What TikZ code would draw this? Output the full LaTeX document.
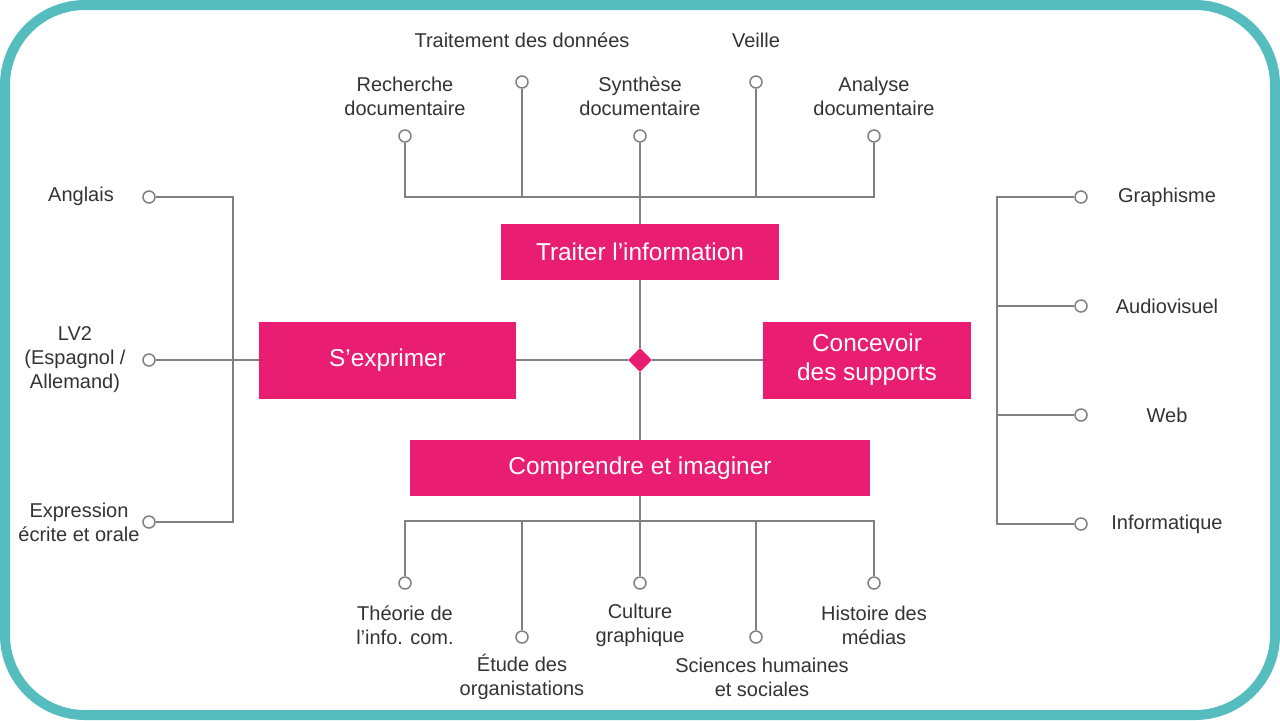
\documentclass[tikz,border=0pt]{standalone}
\usepackage{fontspec}
\setmainfont{Liberation Sans}
\usepackage{tikz}
\usetikzlibrary{shapes.geometric}
\definecolor{frame}{HTML}{55BDBD}
\definecolor{accent}{HTML}{E91E73}
\definecolor{wire}{HTML}{808080}
\definecolor{ink}{HTML}{333333}
\tikzset{
  link/.style={draw=wire, line width=1pt},
  pin/.style={circle, draw=wire, fill=white, line width=0.75pt, minimum size=6pt, inner sep=0pt},
  box/.style={fill=accent, text=white, inner sep=0pt, align=center, font=\fontsize{12.2}{14.5}\selectfont},
  hubd/.style={diamond, aspect=1, fill=accent, minimum size=12pt, inner sep=0pt},
  lab/.style={text=ink, align=center, font=\fontsize{10}{12}\selectfont, inner sep=0pt},
}

\begin{document}
\begin{tikzpicture}[x=0.5pt,y=-0.5pt]
  \useasboundingbox (0,0) rectangle (1280,720);
  \draw[frame, line width=5pt, rounded corners=40pt] (5,5) rectangle (1275,715);
  \def\tbus{197} \def\bbus{521} \def\lbus{233} \def\rbus{997}
  % central boxes
  \node[box, minimum width=139pt, minimum height=28pt] (traiter) at (640,252) {Traiter l’information};
  \node[box, minimum width=128.5pt, minimum height=38.5pt] (exprimer) at (387.5,360) {S’exprimer};
  \node[box, minimum width=104pt, minimum height=38.5pt] (concevoir) at (867,360) {Concevoir\\des supports};
  \node[box, minimum width=230pt, minimum height=28pt] (comprendre) at (640,468) {Comprendre et imaginer};
  \node[hubd] (hub) at (640,360) {};
  \coordinate (tb) at (640,\tbus);
  \coordinate (bb) at (640,\bbus);
  \draw[link] (tb) -- (traiter.north);
  \draw[link] (traiter.south) -- (hub.north);
  \draw[link] (hub.south) -- (comprendre.north);
  \draw[link] (comprendre.south) -- (bb);
  \draw[link] (exprimer.east) -- (hub.west);
  \draw[link] (hub.east) -- (concevoir.west);
  % top branch
  \node[pin] (rech) at (405,136) {};
  \node[pin] (trait) at (522,82) {};
  \node[pin] (synth) at (640,136) {};
  \node[pin] (veille) at (756,82) {};
  \node[pin] (anal) at (874,136) {};
  \draw[link] (rech) |- (tb) -| (anal);
  \draw[link] (trait) -- (trait |- tb);
  \draw[link] (synth) -- (tb);
  \draw[link] (veille) -- (veille |- tb);
  \node[lab] (l-rech) at (405,96) {Recherche\\documentaire};
  \node[lab] (l-trait) at (522,40) {Traitement des données};
  \node[lab] (l-synth) at (640,96) {Synthèse\\documentaire};
  \node[lab] (l-veille) at (756,40) {Veille};
  \node[lab] (l-anal) at (874,96) {Analyse\\documentaire};
  % bottom branch
  \node[pin] (theo) at (405,583) {};
  \node[pin] (etude) at (522,637) {};
  \node[pin] (cult) at (640,583) {};
  \node[pin] (scien) at (756,637) {};
  \node[pin] (hist) at (874,583) {};
  \draw[link] (theo) |- (bb) -| (hist);
  \draw[link] (etude) -- (etude |- bb);
  \draw[link] (cult) -- (bb);
  \draw[link] (scien) -- (scien |- bb);
  \node[lab] (l-theo) at (405,625) {Théorie de\\l’info. com.};
  \node[lab] (l-etude) at (522,677) {Étude des\\organistations};
  \node[lab] (l-cult) at (640,625) {Culture\\graphique};
  \node[lab] (l-scien) at (762,677) {Sciences humaines\\et sociales};
  \node[lab] (l-hist) at (874,625) {Histoire des\\médias};
  % left branch
  \node[pin] (angl) at (149,197) {};
  \node[pin] (lv) at (149,360) {};
  \node[pin] (expr) at (149,522) {};
  \coordinate (lt) at (\lbus,197);
  \coordinate (lb) at (\lbus,522);
  \draw[link] (angl) -- (lt) -- (lb) -- (expr);
  \draw[link] (lv) -- (exprimer.west);
  \node[lab] (l-angl) at (81,196) {Anglais};
  \node[lab] (l-lv) at (75,360) {LV2\\(Espagnol /\\Allemand)};
  \node[lab] (l-expr) at (79,522) {Expression\\écrite et orale};
  % right branch
  \node[pin] (graph) at (1081,197) {};
  \node[pin] (audio) at (1081,306) {};
  \node[pin] (web) at (1081,415) {};
  \node[pin] (info) at (1081,524) {};
  \coordinate (rt) at (\rbus,197);
  \coordinate (rb) at (\rbus,524);
  \draw[link] (graph) -- (rt) -- (rb) -- (info);
  \draw[link] (audio) -- (audio -| rt);
  \draw[link] (web) -- (web -| rt);
  \node[lab] (l-graph) at (1167,197) {Graphisme};
  \node[lab] (l-audio) at (1167,306) {Audiovisuel};
  \node[lab] (l-web) at (1167,415) {Web};
  \node[lab] (l-info) at (1167,524) {Informatique};
\end{tikzpicture}
\end{document}
